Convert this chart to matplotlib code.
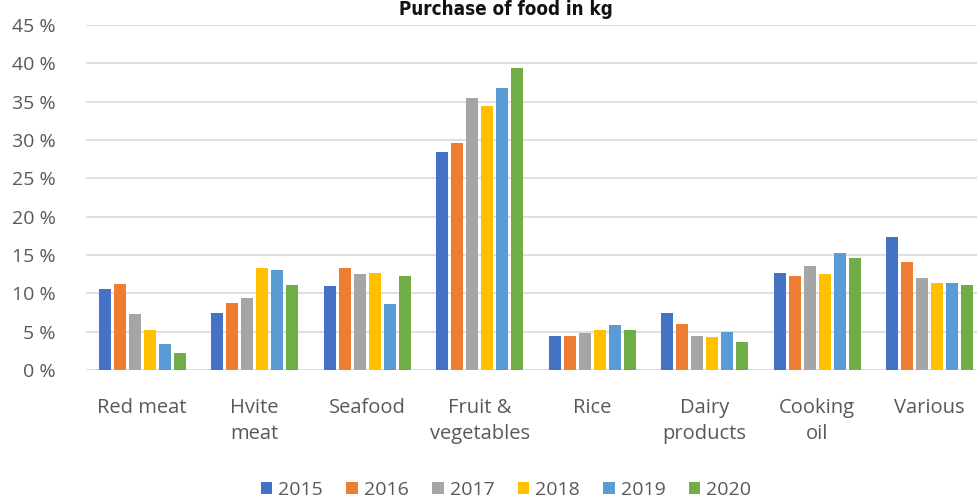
import matplotlib
matplotlib.use("Agg")
import matplotlib.pyplot as plt
import numpy as np

categories = ["Red meat", "Hvite\nmeat", "Seafood", "Fruit &\nvegetables", "Rice",
              "Dairy\nproducts", "Cooking\noil", "Various"]
years = ["2015", "2016", "2017", "2018", "2019", "2020"]
v2015 = [10.6, 7.4, 11.0, 28.4, 4.5, 7.5, 12.6, 17.3]
v2016 = [11.2, 8.7, 13.3, 29.6, 4.5, 6.0, 12.2, 14.1]
v2017 = [7.3, 9.4, 12.5, 35.5, 4.8, 4.5, 13.6, 12.0]
v2018 = [5.2, 13.3, 12.7, 34.5, 5.2, 4.3, 12.5, 11.4]
v2019 = [3.4, 13.1, 8.6, 36.8, 5.9, 4.9, 15.3, 11.4]
v2020 = [2.2, 11.1, 12.2, 39.4, 5.2, 3.6, 14.6, 11.1]
series = [v2015, v2016, v2017, v2018, v2019, v2020]
colors = ["#4472C4", "#ED7D31", "#A5A5A5", "#FFC000", "#5B9BD5", "#70AD47"]
yticks = [0, 5, 10, 15, 20, 25, 30, 35, 40, 45]

fig = plt.figure(figsize=(9.78, 5.0), dpi=100)
ax = fig.add_axes([86/978, 1-370/500, 900/978, 345/500])

x = np.arange(len(categories))
pitch = 0.133
width = 0.107
for i, (vals, c, y) in enumerate(zip(series, colors, years)):
    ax.bar(x + (i - 2.5) * pitch, vals, width=width, color=c, label=y, zorder=3)

ax.set_xlim(-0.5, len(categories) - 0.5)
ax.set_ylim(0, 45)
ax.set_yticks(yticks)
ax.set_yticklabels([f"{t} %" for t in yticks], color="#595959", fontsize=14,
                   family="Open Sans")
ax.set_xticks(x)
ax.set_xticklabels(categories, color="#595959", fontsize=14.5, family="Open Sans",
                   linespacing=1.4, va="top")
ax.tick_params(axis="both", length=0)
ax.tick_params(axis="x", pad=20)
ax.tick_params(axis="y", pad=22)
ax.grid(axis="y", color="#D9D9D9", linewidth=1.2, zorder=0)
for s in ax.spines.values():
    s.set_visible(False)

fig.text(506/978, 1.0, "Purchase of food in kg", ha="center", va="top",
         fontsize=13.5, fontweight="bold", fontstretch="condensed",
         family=["Liberation Sans Narrow", "DejaVu Sans"], color="#111111")

leg = fig.legend(loc="center", bbox_to_anchor=(506/978, 10/500), ncol=6,
                 frameon=False, handlelength=0.6, handleheight=0.6, handletextpad=0.3,
                 columnspacing=1.2, borderpad=0,
                 prop={"family": "Open Sans", "size": 14})
for t in leg.get_texts():
    t.set_color("#595959")

fig.savefig("out.png", dpi=100)
